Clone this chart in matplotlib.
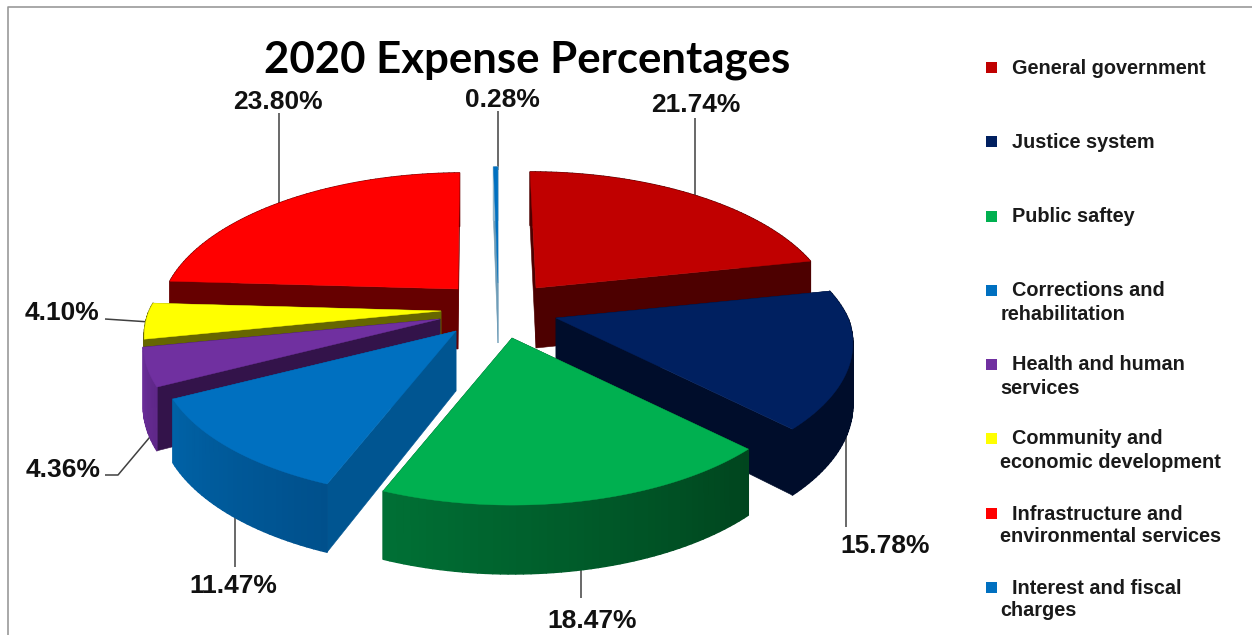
import matplotlib
matplotlib.use('Agg')
import matplotlib.pyplot as plt
from matplotlib.collections import PolyCollection
from matplotlib.colors import to_rgb
from matplotlib.patches import Polygon
import numpy as np

# data
categories = ['General government', 'Justice system', 'Public saftey',
              'Corrections and\nrehabilitation', 'Health and human\nservices',
              'Community and\neconomic development',
              'Infrastructure and\nenvironmental services',
              'Interest and fiscal\ncharges']
percent = [21.74, 15.78, 18.47, 11.47, 4.36, 4.10, 23.80, 0.28]
title = '2020 Expense Percentages'

# look of each slice: top, cut faces, outer wall at start and at end of the arc
top_col = ['#C00000', '#002060', '#00B050', '#0070C0', '#7030A0', '#FFFF00', '#FF0000', '#0070C0']
cut_col = ['#4D0000', '#000D2B', '#00461F', '#005591', '#33134A', '#666600', '#660000', '#6F9DB8']
wall_a = ['#4D0000', '#000D2B', '#00451E', '#00508C', '#5F2889', '#666600', '#660000', '#8FB5CC']
wall_b = ['#4D0000', '#000D2B', '#007035', '#0062A6', '#6A2D98', '#666600', '#660000', '#8FB5CC']
# where each exploded slice has its point, in pixels
apex = [(536, 288), (556, 318), (512, 338), (456, 331), (440, 319), (441, 311), (458, 289), (498, 283)]
draw_order = [6, 0, 7, 1, 5, 4, 3, 2]

RX, RY, PERSP, THICK = 292, 137, 0.18, 60
MID_X = 497

label_pos = [(696, 105), (885, 546), (592, 621), (233, 586), (63, 470), (62, 313), (278, 102), (502, 100)]
leaders = [[(695, 118), (695, 210)], [(846, 400), (846, 527)], [(581, 550), (581, 598)],
           [(235, 500), (235, 567)], [(160, 425), (118, 475), (105, 475)],
           [(150, 322), (105, 319)], [(279, 113), (279, 215)], [(497.5, 111), (497.5, 170)]]
legend_y = [68, 142, 217, 291, 365, 439, 514, 588]


def rim(ap, theta, down=False):
    # theta in radians, clockwise from the back of the pie
    x, y = np.sin(theta), np.cos(theta)
    s = 1 / (1 + PERSP * y)
    # towards the back an exploded slice also drifts to the middle
    px = MID_X + (ap[0] - MID_X) * min(s, 1) + RX * x * s
    py = ap[1] - RY * y * s
    if down:
        py = py + THICK * s ** 0.7
    return px, py


fig = plt.figure(figsize=(12.52, 6.35), dpi=100)
ax = fig.add_axes([0, 0, 1, 1])
ax.set_xlim(0, 1252)
ax.set_ylim(635, 0)
ax.axis('off')

# frame of the screenshot
ax.plot([7.5, 7.5, 1252], [635, 6.5, 6.5], color='#999999', lw=1.2)

# leaders go under the slices
for i in range(len(percent)):
    xs, ys = zip(*leaders[i])
    ax.plot(xs, ys, color='#404040', lw=1.1, solid_capstyle='butt', zorder=1)

ends = np.cumsum(percent) / 100 * 2 * np.pi
starts = np.concatenate([[0], ends[:-1]])

z = 2
for i in draw_order:
    ap = apex[i]
    t = np.linspace(starts[i], ends[i], max(int(percent[i] * 3), 3))
    # cut faces
    for a in (starts[i], ends[i]):
        face = [ap, rim(ap, a), rim(ap, a, True), (ap[0], ap[1] + THICK)]
        ax.add_patch(Polygon(face, closed=True, fc=cut_col[i], ec=cut_col[i], lw=0.4, zorder=z))
    # outer wall, little quads for the shading
    quads, cols = [], []
    c0, c1 = np.array(to_rgb(wall_a[i])), np.array(to_rgb(wall_b[i]))
    for j in range(len(t) - 1):
        quads.append([rim(ap, t[j]), rim(ap, t[j + 1]), rim(ap, t[j + 1], True), rim(ap, t[j], True)])
        cols.append(c0 + (c1 - c0) * j / max(len(t) - 2, 1))
    wall = PolyCollection(quads, facecolors=cols, edgecolors=cols, linewidths=1.0, zorder=z)
    wall.set_snap(False)
    ax.add_collection(wall)
    # top
    pts = [ap] + [rim(ap, a) for a in t]
    ax.add_patch(Polygon(pts, closed=True, fc=top_col[i], ec=top_col[i], lw=0.3, zorder=z))
    z += 1

# labels
for i in range(len(percent)):
    ax.text(label_pos[i][0], label_pos[i][1], '%.2f%%' % percent[i], ha='center', va='center',
            fontsize=19, fontweight='bold', family='Liberation Sans', color='#111111', zorder=20)

ax.text(527, 60, title, ha='center', va='center', fontsize=31.5, fontweight='bold',
        family='Lato', color='black', zorder=20)

# legend, typed by hand as the second lines sit further left
for i, name in enumerate(categories):
    y = legend_y[i]
    ax.add_patch(plt.Rectangle((986, y - 6), 10.5, 10.5, fc=top_col[i], ec='none'))
    lines = name.split('\n')
    ax.text(1012, y, lines[0], ha='left', va='center', fontsize=14.3, fontweight='bold',
            family='Liberation Sans', color='#1a1a1a')
    if len(lines) > 1:
        ax.text(1000.5, y + 23, lines[1], ha='left', va='center', fontsize=14.3, fontweight='bold',
                family='Liberation Sans', color='#1a1a1a')

fig.savefig('out.png', dpi=100)
